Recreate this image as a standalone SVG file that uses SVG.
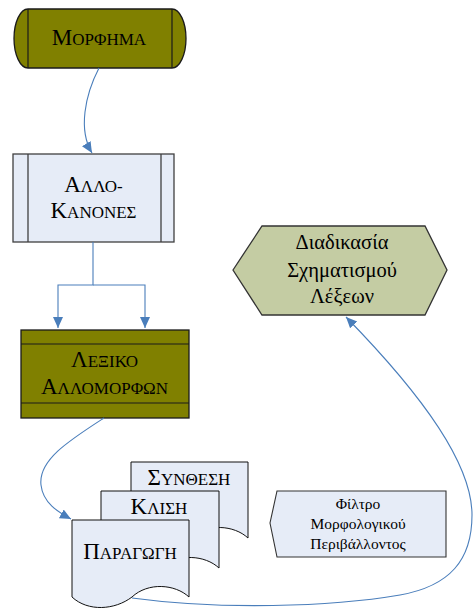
<svg xmlns="http://www.w3.org/2000/svg" width="473" height="608" viewBox="0 0 473 608">
<style>
text{font-family:"Liberation Serif","DejaVu Serif",serif;fill:#000;text-anchor:middle}
.b{font-size:23px}
.s{font-size:17px}
.olive{fill:#808000;stroke:#1a1a1a;stroke-width:1.3}
.lb{fill:#e6ecf7;stroke:#404040;stroke-width:1.3}
.doc{fill:#e6ecf7;stroke:#111;stroke-width:1}
.conn{fill:none;stroke:#4a7ebb;stroke-width:1.1}
.hx{font-size:20.5px}
.ft{font-size:15.5px}
</style>
<defs>
<marker id="arr" markerUnits="userSpaceOnUse" markerWidth="12" markerHeight="12" viewBox="0 0 12 12" refX="11" refY="6" orient="auto">
<path d="M0,1 L11,6 L0,11 Z" fill="#4a7ebb"/>
</marker>
</defs>

<g id="morfima">
<path class="olive" d="M28,9 H172 A14,29.5 0 0 1 172,68 H28 A14,29.5 0 0 1 28,9 Z"/>
<line x1="28" y1="9" x2="28" y2="68" stroke="#1a1a1a" stroke-width="1.2"/>
<line x1="172" y1="9" x2="172" y2="68" stroke="#1a1a1a" stroke-width="1.2"/>
<text x="99" y="45"><tspan class="b">Μ</tspan><tspan class="s">ΟΡΦΗΜΑ</tspan></text>
</g>

<g id="allokanones">
<rect class="lb" x="13" y="154" width="161" height="88"/>
<line x1="28" y1="154" x2="28" y2="242" stroke="#404040" stroke-width="1.3"/>
<line x1="161" y1="154" x2="161" y2="242" stroke="#404040" stroke-width="1.3"/>
<text x="93.5" y="192"><tspan class="b">Α</tspan><tspan class="s">ΛΛΟ-</tspan></text>
<text x="93.5" y="218"><tspan class="b">Κ</tspan><tspan class="s">ΑΝΟΝΕΣ</tspan></text>
</g>

<g id="lexiko">
<rect class="olive" x="21" y="330" width="168" height="88"/>
<line x1="21" y1="344" x2="189" y2="344" stroke="#1a1a1a" stroke-width="1.2"/>
<line x1="21" y1="403" x2="189" y2="403" stroke="#1a1a1a" stroke-width="1.2"/>
<text x="104.5" y="367"><tspan class="b">Λ</tspan><tspan class="s">ΕΞΙΚΟ</tspan></text>
<text x="104.5" y="394"><tspan class="b">Α</tspan><tspan class="s">ΛΛΟΜΟΡΦΩΝ</tspan></text>
</g>

<g id="diadikasia">
<polygon points="233,270 262,226 425,226 447,270 425,315 262,315" fill="#c4cca3" stroke="#333" stroke-width="1.3"/>
<text class="hx" x="342" y="249">Διαδικασία</text>
<text class="hx" x="342" y="277">Σχηματισμού</text>
<text class="hx" x="342" y="303">Λέξεων</text>
</g>

<g id="synthesi">
<path class="doc" d="M131,462 H248 V538 C234,525 207,523 191,538 C174,551 147,553 131,538 Z"/>
<text x="189" y="485"><tspan class="b">Σ</tspan><tspan class="s">ΥΝΘΕΣΗ</tspan></text>
</g>

<g id="klisi">
<path class="doc" d="M101,491 H219 V568 C205,555 178,553 162,568 C145,581 118,583 101,568 Z"/>
<text x="159" y="514"><tspan class="b">Κ</tspan><tspan class="s">ΛΙΣΗ</tspan></text>
</g>

<g id="paragogi">
<path class="doc" d="M72,520 H189 V597 C175,584 148,582 132,597 C115,610 88,612 72,597 Z"/>
<text x="130" y="559"><tspan class="b">Π</tspan><tspan class="s">ΑΡΑΓΩΓΗ</tspan></text>
</g>

<g id="filtro">
<polygon points="277,491 446,491 446,557 277,557 270,523" fill="#e6ecf7" stroke="#333" stroke-width="1.1"/>
<text class="ft" x="358" y="509">Φίλτρο</text>
<text class="ft" x="358" y="529">Μορφολογικού</text>
<text class="ft" x="358" y="549">Περιβάλλοντος</text>
</g>

<g id="connectors">
<path class="conn" marker-end="url(#arr)" d="M99,68 C85,95 78,130 92,153"/>
<path class="conn" marker-end="url(#arr)" d="M93,242 V285 H58 V328"/>
<path class="conn" marker-end="url(#arr)" d="M93,285 H145 V328"/>
<path class="conn" marker-end="url(#arr)" d="M104,418 C70,440 38,460 41,485 C43,503 58,512 71,519"/>
<path class="conn" marker-end="url(#arr)" d="M132,598 C220,610 330,607 400,595 C450,586 472,560 472,515 C472,465 425,398 346,317"/>
</g>
</svg>
